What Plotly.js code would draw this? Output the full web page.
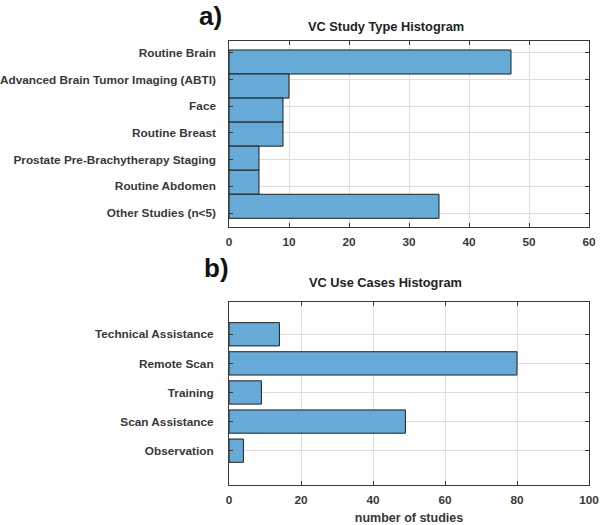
<!DOCTYPE html>
<html>
<head>
<meta charset="utf-8">
<script src="https://cdn.plot.ly/plotly-3.0.1.min.js"></script>
<style>html,body{margin:0;padding:0;background:#fff;}#chart{width:600px;height:525px;}</style>
</head>
<body>
<div id="chart"></div>
<script>
// ---- data ----
var studyTypes = ["Routine Brain", "Advanced Brain Tumor Imaging (ABTI)", "Face", "Routine Breast",
  "Prostate Pre-Brachytherapy Staging", "Routine Abdomen", "Other Studies (n<5)"];
var studyCounts = [47, 10, 9, 9, 5, 5, 35];
var useCases = ["Technical Assistance", "Remote Scan", "Training", "Scan Assistance", "Observation"];
var useCounts = [14, 80, 9, 49, 4];
var xTicksTop = [0, 10, 20, 30, 40, 50, 60];
var xTicksBottom = [0, 20, 40, 60, 80, 100];
var titleTop = "VC Study Type Histogram";
var titleBottom = "VC Use Cases Histogram";
var xLabel = "number of studies";

// ---- style ----
var FONT = "Liberation Sans, Arial, sans-serif";
var TXT = "#383838";
var LINE = "#3a3a3a";
var GRID = "#dedede";
var FILL = "#66aad7";
var tickFont = {family: FONT, size: 11.8, color: TXT, weight: "bold"};

var xDom = [229/600, 589/600];
var yDomTop = [1 - 227.3/525, 1 - 40.7/525];
var yDomBot = [1 - 485/525, 1 - 301.7/525];

var traces = [
  {type: "bar", orientation: "h", x: studyCounts, y: studyTypes, xaxis: "x", yaxis: "y",
   width: 1, marker: {color: FILL, line: {color: "#1e1e1e", width: 1}}, hoverinfo: "x+y"},
  {type: "scatter", mode: "markers", x: studyCounts, y: studyTypes, xaxis: "x", yaxis: "y2",
   marker: {opacity: 0}, hoverinfo: "skip", showlegend: false},
  {type: "bar", orientation: "h", x: useCounts, y: useCases, xaxis: "x2", yaxis: "y3",
   width: 0.8, marker: {color: FILL, line: {color: "#1e1e1e", width: 1}}, hoverinfo: "x+y"}
];

function xAxis(ticks, rng, anchor) {
  return {domain: xDom, anchor: anchor, range: rng, tickmode: "array", tickvals: ticks,
    ticks: "inside", ticklen: 4, tickcolor: LINE, showline: true, linecolor: LINE, linewidth: 1,
    mirror: "ticks", showgrid: true, gridcolor: GRID, gridwidth: 1, zeroline: false,
    tickfont: tickFont, ticklabelstandoff: 4, ticklabeloverflow: "allow", fixedrange: true};
}

var layout = {
  width: 600, height: 525, showlegend: false,
  paper_bgcolor: "#fff", plot_bgcolor: "#fff",
  margin: {l: 0, r: 0, t: 0, b: 0},
  bargap: 0,
  xaxis: xAxis(xTicksTop, [0, 60], "y"),
  yaxis: {domain: yDomTop, anchor: "x", type: "category", range: [6.873, -0.886],
    showticklabels: false, ticks: "", showgrid: false, showline: true, linecolor: LINE,
    linewidth: 1, mirror: true, zeroline: false, fixedrange: true},
  yaxis2: {overlaying: "y", anchor: "x", side: "left", type: "category", range: [6.535, -0.449],
    ticks: "inside", ticklen: 4, tickcolor: LINE, mirror: "ticks", showline: false,
    showgrid: true, gridcolor: GRID, gridwidth: 1, zeroline: false, tickfont: tickFont,
    ticklabelstandoff: 12, ticklabeloverflow: "allow", fixedrange: true},
  xaxis2: Object.assign(xAxis(xTicksBottom, [0, 100], "y3"),
    {title: {text: xLabel, font: {family: FONT, size: 12.5, color: TXT, weight: "bold"}, standoff: 15}}),
  yaxis3: {domain: yDomBot, anchor: "x2", type: "category", range: [5.18, -1.12],
    ticks: "inside", ticklen: 4, tickcolor: LINE, mirror: "ticks", showline: true,
    linecolor: LINE, linewidth: 1, showgrid: true, gridcolor: GRID, gridwidth: 1,
    zeroline: false, tickfont: tickFont, ticklabelstandoff: 12, fixedrange: true},
  annotations: [
    {text: "a)", xref: "paper", yref: "paper", x: 210/600, y: 1 - 16/525, xanchor: "center",
     yanchor: "middle", showarrow: false, font: {family: FONT, size: 26, color: "#111", weight: "bold"}},
    {text: "b)", xref: "paper", yref: "paper", x: 216/600, y: 1 - 268/525, xanchor: "center",
     yanchor: "middle", showarrow: false, font: {family: FONT, size: 26, color: "#111", weight: "bold"}},
    {text: titleTop, xref: "paper", yref: "paper", x: 385.5/600, y: 1 - 27/525, xanchor: "center",
     yanchor: "middle", showarrow: false, font: {family: FONT, size: 12.8, color: "#222", weight: "bold"}},
    {text: titleBottom, xref: "paper", yref: "paper", x: 385/600, y: 1 - 282/525, xanchor: "center",
     yanchor: "middle", showarrow: false, font: {family: FONT, size: 12.8, color: "#222", weight: "bold"}}
  ]
};

Plotly.newPlot("chart", traces, layout, {displayModeBar: false, staticPlot: true});
</script>
</body>
</html>
